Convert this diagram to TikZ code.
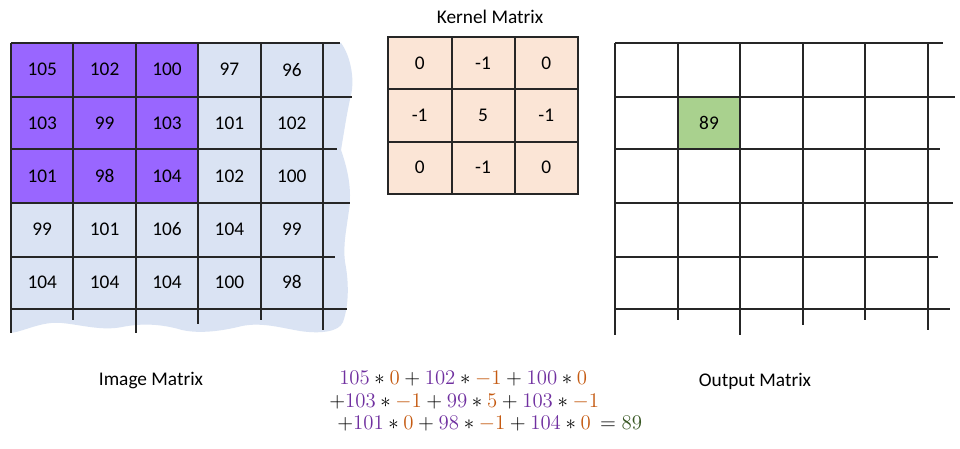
\documentclass[tikz,border=0pt]{standalone}
\usepackage{fontspec}
\setmainfont{Carlito}
\usepackage{xcolor}
\usepackage{graphicx}
\definecolor{imgblue}{HTML}{DAE3F3}
\definecolor{winpurple}{HTML}{9966FF}
\definecolor{kpeach}{HTML}{FBE5D6}
\definecolor{outgreen}{HTML}{A9D18E}
\definecolor{fpurple}{HTML}{7030A0}
\definecolor{forange}{HTML}{C55A11}
\definecolor{fgreen}{HTML}{385723}
\newcommand\imv[1]{\textcolor{fpurple}{#1}}
\newcommand\krv[1]{\textcolor{forange}{#1}}
\begin{document}
\begin{tikzpicture}[x=0.75pt,y=-0.75pt,
  gridline/.style={line width=1pt, draw=black!85},
  celltext/.style={font=\fontsize{14.5}{17}\selectfont, inner sep=0pt},
  titletext/.style={font=\fontsize{14.5}{17}\selectfont, inner sep=0pt},
  formula/.style={font=\fontsize{14.4}{17}\selectfont, inner sep=0pt, anchor=west}]
\useasboundingbox (0,0) rectangle (960,449);
\fill[white] (0,0) rectangle (960,449);

% ---------- Image matrix ----------
\fill[imgblue] (11,43) -- (341,43)
  .. controls (350,55) and (355,78) .. (351,95)
  .. controls (347,112) and (344,132) .. (341,150)
  .. controls (348,170) and (352,190) .. (349,210)
  .. controls (346,232) and (343,245) .. (345,262)
  .. controls (349,282) and (349,305) .. (343,322)
  .. controls (339,332) and (320,334) .. (300,331)
  .. controls (282,328) and (262,322) .. (242,326)
  .. controls (222,331) and (200,334) .. (182,330)
  .. controls (162,324) and (142,323) .. (122,327)
  .. controls (102,331) and (82,325) .. (62,323)
  .. controls (42,321) and (25,331) .. (11,333) -- cycle;
\fill[winpurple] (11,43) rectangle (198,203);
\draw[gridline] (11,43) -- (340,43);
\draw[gridline] (11,97) -- (352,97);
\draw[gridline] (11,149) -- (337,149);
\draw[gridline] (11,203) -- (350,203);
\draw[gridline] (11,257) -- (335,257);
\draw[gridline] (11,309) -- (347,309);
\draw[gridline] (11,43) -- (11,333);
\draw[gridline] (73,43) -- (73,320);
\draw[gridline] (136,43) -- (136,333);
\draw[gridline] (198,43) -- (198,324);
\draw[gridline] (261,43) -- (261,320);
\draw[gridline] (323,43) -- (323,330);
\foreach \rowvals [count=\r] in {{105,102,100,97,96},{103,99,103,101,102},{101,98,104,102,100},{99,101,106,104,99},{104,104,104,100,98}}{
  \foreach \v [count=\c] in \rowvals {
    \node[celltext] (img-\r-\c) at ({11+62.4*(\c-0.5)},{43+53.2*(\r-0.5)}) {\v};
  }
}
\node[titletext] (imgtitle) at (151,381) {Image Matrix};

% ---------- Kernel matrix ----------
\fill[kpeach] (388,37) rectangle (578,194);
\draw[gridline] (388,37) rectangle (578,194);
\draw[gridline] (452,37) -- (452,194);
\draw[gridline] (515,37) -- (515,194);
\draw[gridline] (388,89) -- (578,89);
\draw[gridline] (388,142) -- (578,142);
\foreach \rowvals [count=\r] in {{0,-1,0},{-1,5,-1},{0,-1,0}}{
  \foreach \v [count=\c] in \rowvals {
    \node[celltext] (ker-\r-\c) at ({388+63.3*(\c-0.5)},{37+52.3*(\r-0.5)}) {\v};
  }
}
\node[titletext] (kertitle) at (490,17) {Kernel Matrix};

% ---------- Output matrix ----------
\fill[outgreen] (678,97) rectangle (740,149);
\draw[gridline] (615,43) -- (943,43);
\draw[gridline] (615,97) -- (955,97);
\draw[gridline] (615,149) -- (940,149);
\draw[gridline] (615,203) -- (953,203);
\draw[gridline] (615,257) -- (938,257);
\draw[gridline] (615,309) -- (950,309);
\draw[gridline] (615,43) -- (615,335);
\draw[gridline] (678,43) -- (678,320);
\draw[gridline] (740,43) -- (740,335);
\draw[gridline] (803,43) -- (803,325);
\draw[gridline] (865,43) -- (865,320);
\draw[gridline] (928,43) -- (928,330);
\node[celltext] (out-2-2) at (709,123) {89};
\node[titletext] (outtitle) at (755,381) {Output Matrix};

% ---------- Formula ----------
\node[formula] (f1) at (339,379) {\scalebox{1.085}{$\imv{105}*\krv{0}+\imv{102}*\krv{-1}+\imv{100}*\krv{0}$}};
\node[formula] (f2) at (329,402) {\scalebox{1.085}{$+\imv{103}*\krv{-1}+\imv{99}*\krv{5}+\imv{103}*\krv{-1}$}};
\node[formula] (f3) at (337,424) {\scalebox{1.085}{$+\imv{101}*\krv{0}+\imv{98}*\krv{-1}+\imv{104}*\krv{0}\,=\textcolor{fgreen}{89}$}};
\end{tikzpicture}
\end{document}
